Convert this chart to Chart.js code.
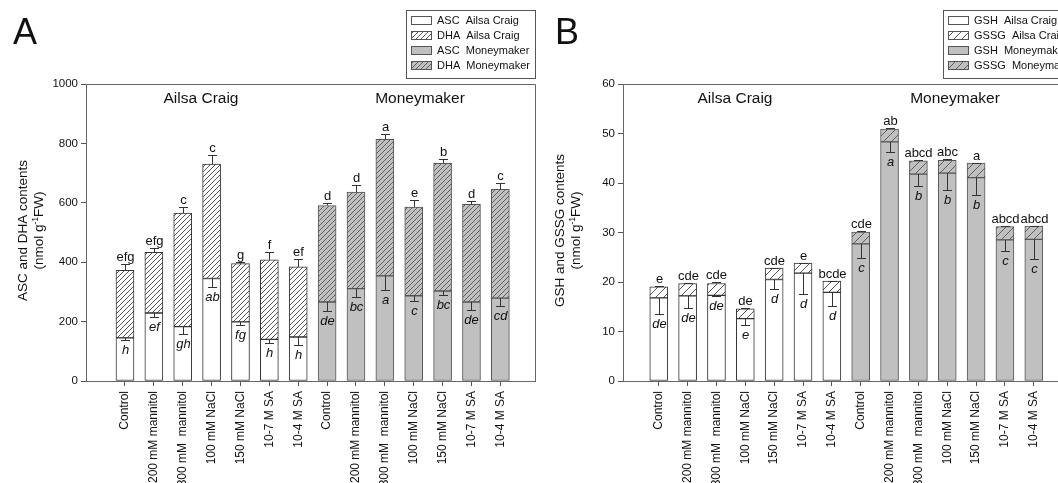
<!DOCTYPE html>
<html>
<head>
<meta charset="utf-8">
<script src="https://cdn.jsdelivr.net/npm/chart.js@4.4.1/dist/chart.umd.min.js"></script>
<style>
  body { margin: 0; width: 1058px; height: 483px; overflow: hidden; background: #fff; position: relative; }
  canvas { position: absolute; top: 0; }
  #chartA { left: 0; }
  #chartB { left: 537px; }
</style>
</head>
<body>
<canvas id="chartA" width="545" height="483"></canvas>
<canvas id="chartB" width="545" height="483"></canvas>
<script>
// Treatments (same order for both cultivars)
const treatments = ['Control', '200 mM mannitol', '300 mM  mannitol', '100 mM NaCl', '150 mM NaCl', '10-7 M SA', '10-4 M SA'];
const groups = ['Ailsa Craig', 'Moneymaker'];

// Panel A - ascorbate (nmol g-1 FW)
const ascAilsa = [145, 229, 183, 345, 199, 140, 148];
const ascAilsaErr = [8, 13, 25, 28, 9, 12, 26];
const dhaAilsa = [228, 204, 382, 385, 196, 268, 236];
const dhaAilsaErr = [22, 14, 21, 30, 7, 26, 28];
const ascMoney = [266, 311, 354, 287, 303, 266, 279];
const ascMoneyErr = [31, 29, 49, 19, 13, 28, 27];
const dhaMoney = [325, 325, 460, 299, 430, 329, 366];
const dhaMoneyErr = [8, 23, 16, 25, 15, 12, 21];
const ascLetters = ['h', 'ef', 'gh', 'ab', 'fg', 'h', 'h', 'de', 'bc', 'a', 'c', 'bc', 'de', 'cd'];
const ascTotalLetters = ['efg', 'efg', 'c', 'c', 'g', 'f', 'ef', 'd', 'd', 'a', 'e', 'b', 'd', 'c'];

// Panel B - glutathione (nmol g-1 FW)
const gshAilsa = [16.8, 17.2, 17.3, 12.6, 20.5, 21.8, 17.9];
const gshAilsaErr = [3.3, 2.5, 0.2, 1.3, 2.0, 4.3, 2.7];
const gssgAilsa = [2.2, 2.5, 2.4, 2.0, 2.3, 2.0, 2.3];
const gssgAilsaErr = [0.2, 0.1, 0.2, 0.1, 0.1, 0.1, 0.1];
const gshMoney = [27.7, 48.3, 41.8, 42.0, 41.1, 28.5, 28.6];
const gshMoneyErr = [2.9, 2.0, 2.5, 3.4, 3.5, 2.2, 4.0];
const gssgMoney = [2.4, 2.6, 2.7, 2.6, 2.9, 2.7, 2.7];
const gssgMoneyErr = [0.2, 0.3, 0.1, 0.3, 0.1, 0.1, 0.1];
const gshLetters = ['de', 'de', 'de', 'e', 'd', 'd', 'd', 'c', 'a', 'b', 'b', 'b', 'c', 'c'];
const glutTotalLetters = ['e', 'cde', 'cde', 'de', 'cde', 'e', 'bcde', 'cde', 'ab', 'abcd', 'abc', 'a', 'abcd', 'abcd'];

const FONT = 'Liberation Sans, Arial, sans-serif';
const WHITE = '#ffffff';
const GREY = '#c0c0c0';

function makeHatch(bg, line, gap) {
    const c = document.createElement('canvas');
    c.width = gap; c.height = gap;
    const g = c.getContext('2d');
    g.fillStyle = bg;
    g.fillRect(0, 0, gap, gap);
    g.strokeStyle = line;
    g.lineWidth = 0.9;
    g.beginPath();
    g.moveTo(-1, gap + 1); g.lineTo(gap + 1, -1);
    g.moveTo(-1, 1); g.lineTo(1, -1);
    g.moveTo(gap - 1, gap + 1); g.lineTo(gap + 1, gap - 1);
    g.stroke();
    return g.createPattern(c, 'repeat');
}

// draw annotations, error bars, box, titles and legend
const decorPlugin = {
    id: 'decor',
    afterDatasetsDraw(chart, args, p) {
        const ctx = chart.ctx;
        const xs = chart.scales.x, ys = chart.scales.y, a = chart.chartArea;
        ctx.save();

        // top + right border of the plot box
        ctx.strokeStyle = '#666';
        ctx.lineWidth = 1;
        ctx.beginPath();
        ctx.moveTo(a.left, a.top + 0.5);
        ctx.lineTo(Math.round(a.right) + 0.5, a.top + 0.5);
        ctx.lineTo(Math.round(a.right) + 0.5, a.bottom);
        ctx.stroke();

        // error bars
        ctx.strokeStyle = '#333';
        p.bottom.forEach((v, i) => {
            const x = Math.round(xs.getPixelForValue(i)) + 0.5;
            const total = v + p.top[i];
            const y0 = ys.getPixelForValue(v);
            const y1 = Math.round(ys.getPixelForValue(v - p.bottomErr[i])) + 0.5;
            const t0 = ys.getPixelForValue(total);
            const t1 = Math.round(ys.getPixelForValue(total + p.topErr[i])) + 0.5;
            ctx.beginPath();
            ctx.moveTo(x, y0); ctx.lineTo(x, y1);
            ctx.moveTo(x - 4.5, y1); ctx.lineTo(x + 4.5, y1);
            ctx.moveTo(x, t0); ctx.lineTo(x, t1);
            ctx.moveTo(x - 4.5, t1); ctx.lineTo(x + 4.5, t1);
            ctx.stroke();

            ctx.fillStyle = '#111';
            ctx.textAlign = 'center';
            ctx.font = '13px ' + FONT;
            ctx.textBaseline = 'alphabetic';
            ctx.fillText(p.topLetters[i], x, t1 - 4);
            ctx.font = 'italic 13px ' + FONT;
            ctx.textBaseline = 'top';
            ctx.fillText(p.bottomLetters[i], x, y1 + 3);
        });

        // cultivar titles
        ctx.fillStyle = '#111';
        ctx.font = '15.5px ' + FONT;
        ctx.textAlign = 'center';
        ctx.textBaseline = 'alphabetic';
        ctx.fillText(groups[0], p.groupX[0], 103);
        ctx.fillText(groups[1], p.groupX[1], 103);

        // y axis title, two lines, second with superscript
        const yc = (a.top + a.bottom) / 2 - 2;
        ctx.font = '13.5px ' + FONT;
        ctx.save();
        ctx.translate(27, yc);
        ctx.rotate(-Math.PI / 2);
        ctx.fillText(p.yTitle, 0, 0);
        ctx.restore();
        ctx.save();
        ctx.translate(43, yc);
        ctx.rotate(-Math.PI / 2);
        ctx.textAlign = 'left';
        const s1 = '(nmol g', s2 = '-1', s3 = 'FW)';
        ctx.font = '13.5px ' + FONT;
        const w1 = ctx.measureText(s1).width, w3 = ctx.measureText(s3).width;
        ctx.font = '8.5px ' + FONT;
        const w2 = ctx.measureText(s2).width;
        let x0 = -(w1 + w2 + w3) / 2;
        ctx.font = '13.5px ' + FONT;
        ctx.fillText(s1, x0, 0);
        ctx.font = '8.5px ' + FONT;
        ctx.fillText(s2, x0 + w1, -5);
        ctx.font = '13.5px ' + FONT;
        ctx.fillText(s3, x0 + w1 + w2, 0);
        ctx.restore();

        // panel letter
        ctx.font = '36px ' + FONT;
        ctx.textAlign = 'left';
        ctx.fillText(p.panel, p.panelX, 44);

        // legend
        const lx = 406, ly = 10, lw = 129, lh = 68;
        ctx.fillStyle = '#fff';
        ctx.fillRect(lx, ly, lw, lh);
        ctx.strokeStyle = '#555';
        ctx.strokeRect(lx + 0.5, ly + 0.5, lw, lh);
        ctx.font = '11px ' + FONT;
        ctx.textBaseline = 'middle';
        p.legend.forEach((item, k) => {
            const cy = ly + 10.5 + k * 15;
            ctx.fillStyle = item.fill;
            ctx.fillRect(lx + 5, cy - 4.5, 21, 9);
            ctx.strokeStyle = '#555';
            ctx.strokeRect(lx + 5.5, cy - 4, 20, 8);
            ctx.fillStyle = '#111';
            ctx.fillText(item.text, lx + 31, cy + 0.5);
        });
        ctx.restore();
    }
};

function buildPanel(canvasId, p) {
    const canvas = document.getElementById(canvasId);
    const ctx = canvas.getContext('2d');
    const idx = p.bottom.map((v, i) => i);
    const xLabels = treatments.concat(treatments);
    const hatchWhite = makeHatch(WHITE, '#444', p.hatchGap);
    const hatchGrey = makeHatch(GREY, '#555', p.hatchGap);
    const isAilsa = i => i < treatments.length;

    p.legend = [
        { text: p.names[0] + '  ' + groups[0], fill: WHITE },
        { text: p.names[1] + '  ' + groups[0], fill: hatchWhite },
        { text: p.names[0] + '  ' + groups[1], fill: GREY },
        { text: p.names[1] + '  ' + groups[1], fill: hatchGrey }
    ];

    return new Chart(ctx, {
        type: 'bar',
        data: {
            datasets: [{
                label: p.names[0],
                data: p.bottom.map((v, i) => ({ x: i, y: v })),
                backgroundColor: idx.map(i => isAilsa(i) ? WHITE : GREY),
                borderColor: idx.map(i => isAilsa(i) ? '#333' : '#555'),
                borderWidth: 1,
                borderSkipped: false,
                barThickness: 18
            }, {
                label: p.names[1],
                data: p.top.map((v, i) => ({ x: i, y: v })),
                backgroundColor: idx.map(i => isAilsa(i) ? hatchWhite : hatchGrey),
                borderColor: idx.map(i => isAilsa(i) ? '#333' : '#555'),
                borderWidth: 1,
                borderSkipped: false,
                barThickness: 18
            }]
        },
        options: {
            responsive: false,
            animation: false,
            devicePixelRatio: 1,
            layout: { padding: { top: 84, right: p.padRight, left: 0, bottom: 0 } },
            plugins: {
                legend: { display: false },
                tooltip: { enabled: false },
                decor: p
            },
            scales: {
                x: {
                    type: 'linear',
                    stacked: true,
                    min: p.xMin,
                    max: p.xMax,
                    offset: false,
                    afterBuildTicks: s => { s.ticks = idx.map(v => ({ value: v })); },
                    afterFit: s => { s.height = 102; },
                    grid: { offset: false, drawOnChartArea: false, drawTicks: true, tickLength: 5, tickColor: '#555' },
                    border: { display: true, color: '#666' },
                    ticks: {
                        autoSkip: false,
                        minRotation: 90,
                        maxRotation: 90,
                        padding: 5,
                        color: '#111',
                        font: { family: FONT, size: 12 },
                        callback: v => xLabels[v]
                    }
                },
                y: {
                    stacked: true,
                    min: 0,
                    max: p.yMax,
                    afterFit: s => { s.width = 86; },
                    grid: { drawOnChartArea: false, drawTicks: true, tickLength: 5, tickColor: '#555' },
                    border: { display: true, color: '#666' },
                    ticks: {
                        stepSize: p.yStep,
                        padding: 3,
                        color: '#111',
                        font: { family: FONT, size: 11.5 },
                        callback: v => String(v)
                    }
                }
            }
        },
        plugins: [decorPlugin]
    });
}

buildPanel('chartA', {
    panel: 'A', panelX: 13,
    names: ['ASC', 'DHA'],
    yTitle: 'ASC and DHA contents',
    bottom: ascAilsa.concat(ascMoney),
    bottomErr: ascAilsaErr.concat(ascMoneyErr),
    top: dhaAilsa.concat(dhaMoney),
    topErr: dhaAilsaErr.concat(dhaMoneyErr),
    bottomLetters: ascLetters,
    topLetters: ascTotalLetters,
    yMax: 1000, yStep: 200,
    xMin: -1.35, xMax: 14.2, padRight: 10,
    groupX: [201, 420],
    hatchGap: 5
});

buildPanel('chartB', {
    panel: 'B', panelX: 18,
    names: ['GSH', 'GSSG'],
    yTitle: 'GSH and GSSG contents',
    bottom: gshAilsa.concat(gshMoney),
    bottomErr: gshAilsaErr.concat(gshMoneyErr),
    top: gssgAilsa.concat(gssgMoney),
    topErr: gssgAilsaErr.concat(gssgMoneyErr),
    bottomLetters: gshLetters,
    topLetters: glutTotalLetters,
    yMax: 60, yStep: 10,
    xMin: -1.24, xMax: 14.2, padRight: 13.6,
    groupX: [198, 418],
    hatchGap: 8
});
</script>
</body>
</html>
